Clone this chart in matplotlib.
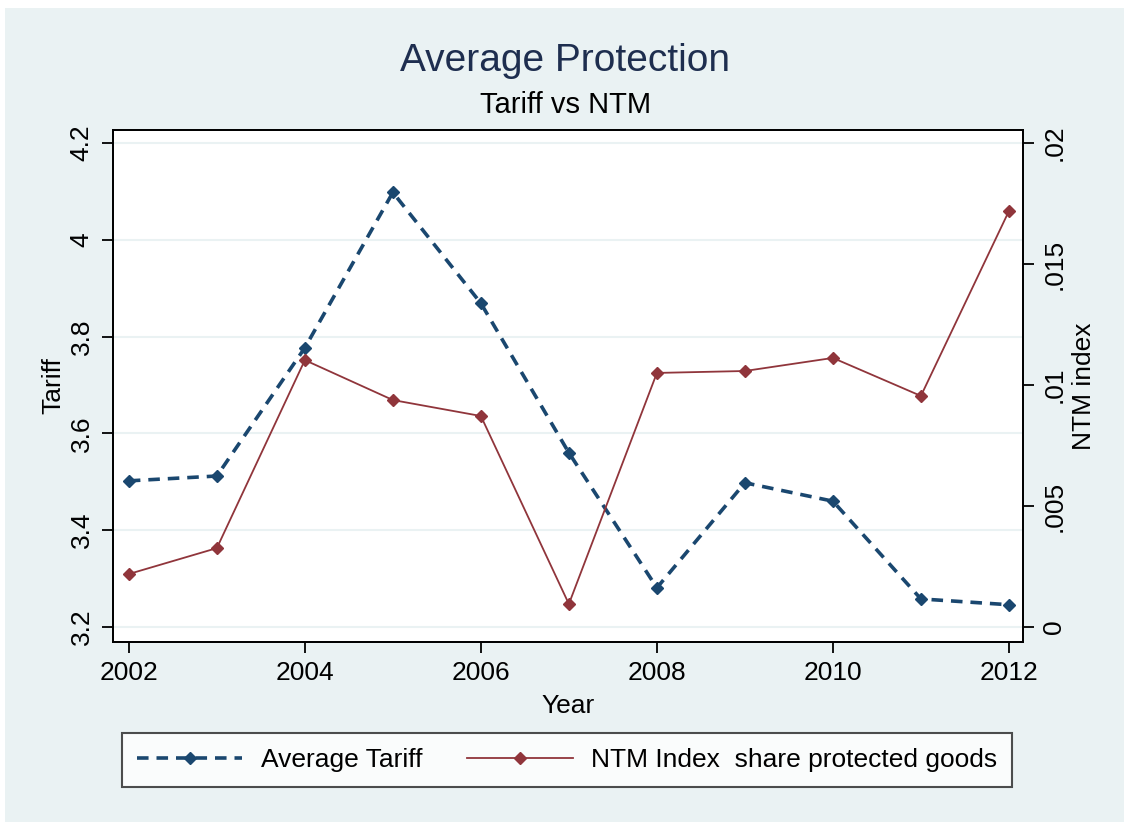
import matplotlib.pyplot as plt
from matplotlib.patches import Rectangle

# Data
years = [2002, 2003, 2004, 2005, 2006, 2007, 2008, 2009, 2010, 2011, 2012]
tariff = [3.502, 3.512, 3.777, 4.098, 3.869, 3.560, 3.281, 3.498, 3.460, 3.258, 3.246]
ntm = [0.00219, 0.00326, 0.01103, 0.00938, 0.00872, 0.00095, 0.0105, 0.01058, 0.01112, 0.00955, 0.01719]

x_ticks = [2002, 2004, 2006, 2008, 2010, 2012]
tariff_ticks = [3.2, 3.4, 3.6, 3.8, 4.0, 4.2]
tariff_labels = ['3.2', '3.4', '3.6', '3.8', '4', '4.2']
ntm_ticks = [0, 0.005, 0.01, 0.015, 0.02]
ntm_labels = ['0', '.005', '.01', '.015', '.02']

bg = '#EAF2F3'
navy = '#1a476f'
maroon = '#90353b'

plt.rcParams['font.family'] = ['Liberation Sans', 'DejaVu Sans']

fig = plt.figure(figsize=(11.24, 8.22), dpi=100, facecolor='white')
fig.patches.append(Rectangle((5 / 1124, 0), 1, 1 - 8 / 822, transform=fig.transFigure,
                             facecolor=bg, edgecolor='none', zorder=-10))

ax = fig.add_axes([113 / 1124, 1 - 642 / 822, 910 / 1124, 512 / 822])
ax.set_facecolor('white')
ax2 = ax.twinx()

l1, = ax.plot(years, tariff, color=navy, linestyle=(0, (3.2, 2.2)), linewidth=2.6,
              marker='D', markersize=6, label='Average Tariff')
l2, = ax2.plot(years, ntm, color=maroon, linestyle='-', linewidth=1.3,
               marker='D', markersize=6, label='NTM Index  share protected goods')

ax.set_xlim(2001.82, 2012.16)
ax.set_ylim(3.169, 4.227)
ax2.set_ylim(-0.00062, 0.02054)

ax.set_xticks(x_ticks)
ax.set_yticks(tariff_ticks)
ax.set_yticklabels(tariff_labels, rotation=90, va='center')
ax2.set_yticks(ntm_ticks)
ax2.set_yticklabels(ntm_labels, rotation=90, va='center')

ax.grid(axis='y', color=bg, linewidth=1.5)
ax.set_axisbelow(True)

for a in (ax, ax2):
    a.tick_params(labelsize=19, length=8, width=1.3, colors='black', pad=6)
    for s in a.spines.values():
        s.set_linewidth(1.3)

ax.set_xlabel('Year', fontsize=19, labelpad=6)
ax.set_ylabel('Tariff', fontsize=19, labelpad=3)
ax2.set_ylabel('NTM index', fontsize=19, labelpad=4)

fig.text(0.503, 1 - 61 / 822, 'Average Protection', ha='center', va='center',
         fontsize=28, color='#1e2e4f')
fig.text(0.503, 1 - 105 / 822, 'Tariff vs NTM', ha='center', va='center',
         fontsize=21, color='black')

leg = fig.legend(handles=[l1, l2], loc='center', bbox_to_anchor=(567 / 1124, 1 - 760 / 822),
                 ncol=2, fontsize=19, frameon=True, fancybox=False, edgecolor='#222222',
                 handlelength=4.0, handletextpad=0.7, columnspacing=1.7,
                 borderpad=0.55, borderaxespad=0)
leg.get_frame().set_linewidth(1.5)

fig.savefig('out.png', dpi=100, facecolor='white')
